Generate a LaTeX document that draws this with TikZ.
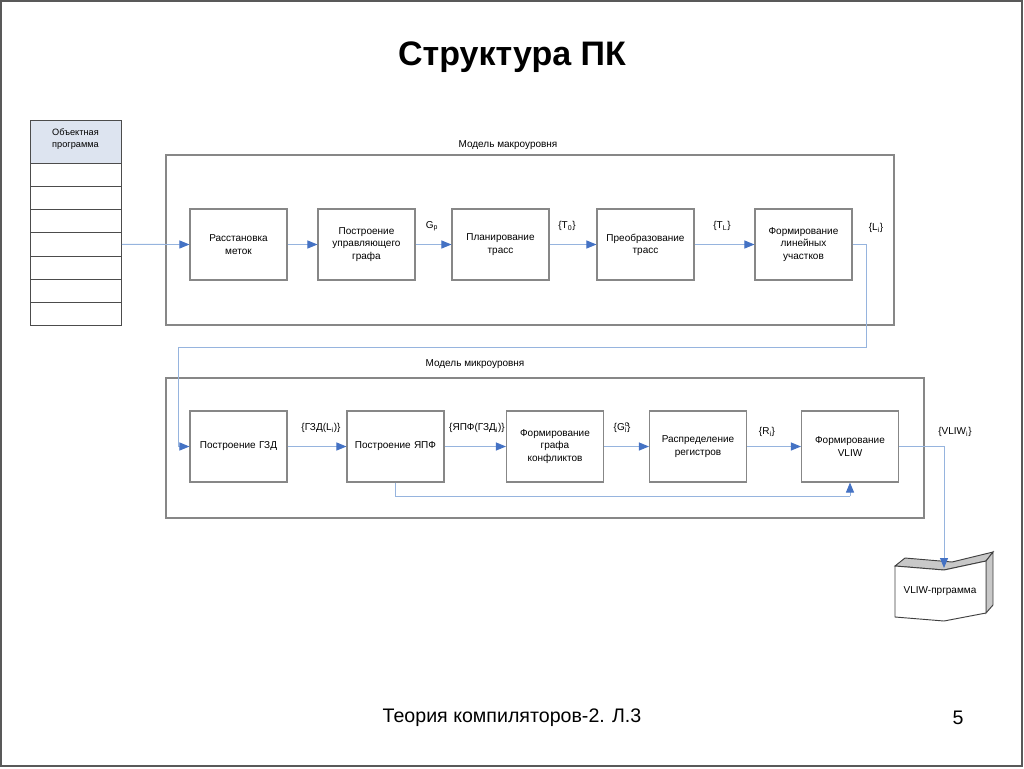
\documentclass[tikz,border=0pt]{standalone}
\usepackage{fontspec}
\setmainfont{Liberation Sans}
\usetikzlibrary{arrows.meta}
\definecolor{boxgray}{RGB}{135,135,135}
\definecolor{linkblue}{RGB}{150,180,222}
\definecolor{tipblue}{RGB}{68,114,196}
\definecolor{headfill}{RGB}{221,228,240}
\definecolor{shade}{RGB}{200,200,200}
\tikzset{
  x=0.75pt, y=-0.75pt,
  every node/.style={font=\fontsize{7.5}{9.2}\selectfont, align=center},
  stepbox/.style={draw=boxgray, line width=0.8pt, fill=white, minimum width=72.75pt, minimum height=53.25pt, inner sep=1pt, text width=66pt},
  frame/.style={draw=boxgray, line width=0.8pt},
  row/.style={draw=black!70, line width=0.6pt, minimum width=68.25pt, minimum height=17.36pt, inner sep=0pt},
  link/.style={draw=linkblue, line width=0.7pt, -{Triangle[length=7.5pt,width=6pt,color=tipblue]}},
  plain/.style={draw=linkblue, line width=0.7pt},
  lbl/.style={inner sep=1pt}
}
\begin{document}
\begin{tikzpicture}
\useasboundingbox (0,0) rectangle (1024,768);
\draw[draw=black!65, line width=1.2pt] (1,1) rectangle (1022,766);

% title and footer
\node[font=\fontsize{25.5}{30}\bfseries\selectfont] (title) at (512,57) {Структура ПК};
\node[font=\fontsize{14.7}{18}\selectfont] (foot) at (512,718) {Теория компиляторов-2. Л.3};
\node[font=\fontsize{14.7}{18}\selectfont] (pnum) at (958,718) {5};

% object program table
\node[row, fill=headfill, minimum height=32.25pt, anchor=north west] (t0) at (30,120) {};
\node[font=\fontsize{6.9}{8.6}\selectfont] (t0txt) at (75.5,139) {Объектная\\программа};
\foreach \i in {1,...,7}{
  \node[row, anchor=north west] (t\i) at (30,{163+23.14*(\i-1)}) {};
}

% frames
\draw[frame] (166,155) rectangle (894,325);
\node (macro) at (508,145) {Модель макроуровня};
\draw[frame] (166,378) rectangle (924,518);
\node (micro) at (475,364) {Модель микроуровня};

% macro level boxes
\node[stepbox] (m1) at (238.5,244.5) {Расстановка\\меток};
\node[stepbox] (m2) at (366.5,244.5) {Построение\\управляющего\\графа};
\node[stepbox] (m3) at (500.5,244.5) {Планирование\\трасс};
\node[stepbox] (m4) at (645.5,244.5) {Преобразование\\трасс};
\node[stepbox] (m5) at (803.5,244.5) {Формирование\\линейных\\участков};

% micro level boxes
\node[stepbox] (u1) at (238.5,446.5) {Построение ГЗД};
\node[stepbox] (u2) at (395.5,446.5) {Построение ЯПФ};
\node[stepbox] (u3) at (555,446.5) {Формирование\\графа\\конфликтов};
\node[stepbox] (u4) at (698,446.5) {Распределение\\регистров};
\node[stepbox] (u5) at (850,446.5) {Формирование\\VLIW};

% labels
\node[lbl] (lg) at (432,226) {G\textsubscript{p}};
\node[lbl] (lt0) at (567,226) {\{T\textsubscript{0}\}};
\node[lbl] (ltl) at (722,226) {\{T\textsubscript{L}\}};
\node[lbl] (lli) at (876,228) {\{L\textsubscript{i}\}};
\node[lbl] (lgzd) at (321,428) {\{ГЗД(L\textsubscript{i})\}};
\node[lbl] (lyapf) at (477,428) {\{ЯПФ(ГЗД\textsubscript{i})\}};
\node[lbl] (lgc) at (622,428) {\{G\rlap{\textsuperscript{c}}\textsubscript{i}\}};
\node[lbl] (lri) at (767,432) {\{R\textsubscript{i}\}};
\node[lbl] (lvliw) at (955,432) {\{VLIW\textsubscript{i}\}};

% document shape
\coordinate (docin) at (944,568);
\filldraw[draw=black!75, fill=shade, line width=0.7pt] (895,566) -- (905,558) -- (952,562) -- (993,552) -- (986,561) -- (944,570) -- cycle;
\filldraw[draw=black!75, fill=shade, line width=0.7pt] (986,561) -- (993,552) -- (993,605) -- (986,613) -- cycle;
\filldraw[draw=black!75, fill=white, line width=0.7pt] (895,566) -- (944,570) -- (986,561) -- (986,613) -- (944,621) -- (895,617) -- cycle;
\node (doc) at (940,591) {VLIW-прграмма};

% connectors
\draw[link] (t4.east) -- (m1.west);
\draw[link] (m1) -- (m2);
\draw[link] (m2) -- (m3);
\draw[link] (m3) -- (m4);
\draw[link] (m4) -- (m5);
\coordinate (c1) at (866,347);
\coordinate (c2) at (178,347);
\draw[plain] (m5.east) -| (c1) -- (c2);
\draw[link] (c2) |- (u1.west);
\draw[link] (u1) -- (u2);
\draw[link] (u2) -- (u3);
\draw[link] (u3) -- (u4);
\draw[link] (u4) -- (u5);
\coordinate (fb1) at (395.5,496);
\coordinate (fb2) at (850,496);
\draw[plain] (u2.south) -- (fb1) -- (fb2);
\draw[link] (fb2) -- (u5.south);
\draw[link] (u5.east) -| (docin);
\end{tikzpicture}
\end{document}
